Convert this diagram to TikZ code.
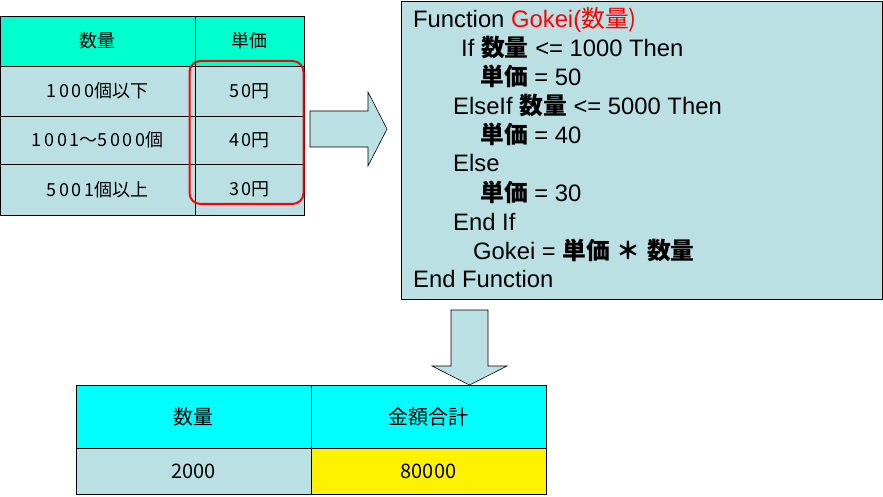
\documentclass[tikz,border=0pt]{standalone}
\usepackage{fontspec}
\setmainfont{Liberation Sans}
\newfontfamily\jp{Noto Sans CJK JP}
\newfontfamily\jpdig[LetterSpace=14]{Noto Sans CJK JP}
\usepackage{xcolor}
\definecolor{pale}{HTML}{BBE0E3}
\definecolor{mint}{HTML}{00FFCC}
\definecolor{aqua}{HTML}{00FFFF}
\newcommand\Suryo{{\jp\bfseries 数量}}
\newcommand\Tanka{{\jp\bfseries 単価}}
\newcommand\dg[1]{{\jpdig #1}}

\begin{document}
\begin{tikzpicture}[x=1pt,y=-1pt,
		cell/.style={draw=black,line width=0.8pt,fill=pale,inner sep=0pt,font=\jp\fontsize{18}{20}\selectfont},
		headcell/.style={cell,fill=mint},
		rescell/.style={cell,font=\jp\fontsize{20}{22}\selectfont},
		codeline/.style={anchor=base west,inner sep=0pt,font=\fontsize{23.8}{26}\selectfont},
		blockarrow/.style={draw=black,line width=0.6pt,fill=pale,line join=miter}]
	\useasboundingbox (0,0) rectangle (883,497);
	% price table
	\node[headcell,minimum width=195pt,minimum height=50pt] (qh) at (97.5,41) {数量};
	\node[headcell,minimum width=109pt,minimum height=50pt] (ph) at (249.5,41) {単価};
	\foreach \y/\h/\a/\b [count=\i] in {91/50/{\dg{1000}個以下}/{\dg{50}円},140/48/{\dg{1001}～\dg{5000}個}/{\dg{40}円},189.5/51/{\dg{5001}個以上}/{\dg{30}円}}{
		\node[cell,minimum width=195pt,minimum height=\h pt] (q\i) at (97.5,\y) {\a};
		\node[cell,minimum width=109pt,minimum height=\h pt] (p\i) at (249.5,\y) {\b};
	}
	\node[draw=red,line width=2pt,rounded corners=11pt,minimum width=114pt,minimum height=143pt] (sel) at (246.5,132.5) {};
	% code
	\node[draw=black,line width=0.8pt,fill=pale,minimum width=481pt,minimum height=298pt,inner sep=0pt] (code) at (641.5,150) {};
	\foreach \x/\y/\t [count=\i] in {
		413/28/{Function {\color{red}Gokei(\jp 数量)}},
		461/57/{If \Suryo\ <= 1000 Then},
		480/86/{\Tanka\ = 50},
		453/115/{ElseIf \Suryo\ <= 5000 Then},
		480/144/{\Tanka\ = 40},
		453/172/{Else},
		480/201/{\Tanka\ = 30},
		453/230/{End If},
		473/259/{Gokei = \Tanka\ {\jp\bfseries ＊} \Suryo},
		413/287/{End Function}}
		\node[codeline] (l\i) at (\x,\y) {\t};
	% arrows
	\draw[blockarrow] (310,111) -- (368,111) -- (368,92) -- (387,129) -- (368,166) -- (368,147) -- (310,147) -- cycle;
	\draw[blockarrow] (451,310) -- (488,310) -- (488,366) -- (507,366) -- (469.5,385) -- (432,366) -- (451,366) -- cycle;
	% result table
	\node[rescell,fill=aqua,minimum width=235pt,minimum height=63pt] (rq) at (193.5,416.5) {数量};
	\node[rescell,fill=aqua,minimum width=235pt,minimum height=63pt] (rs) at (428.5,416.5) {金額合計};
	\node[rescell,minimum width=235pt,minimum height=46pt] (vq) at (193.5,471) {2000};
	\node[rescell,fill=yellow,minimum width=235pt,minimum height=46pt] (vs) at (428.5,471) {80000};
\end{tikzpicture}
\end{document}
